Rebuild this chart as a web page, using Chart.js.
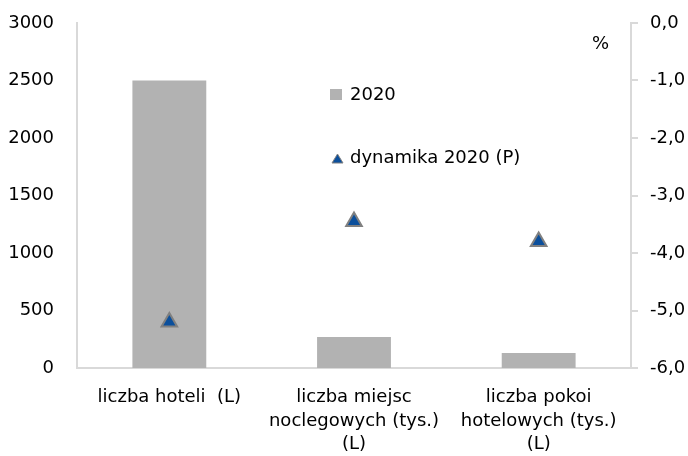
<!DOCTYPE html>
<html>
<head>
<meta charset="utf-8">
<script src="https://cdn.jsdelivr.net/npm/chart.js@4/dist/chart.umd.min.js"></script>
<style>
  html, body { margin: 0; padding: 0; background: #fff; }
  #wrap { width: 688px; height: 456px; }
</style>
</head>
<body>
<div id="wrap"><canvas id="chart" width="688" height="456"></canvas></div>
<script>
const categories = [
    ['liczba hoteli  (L)'],
    ['liczba miejsc', 'noclegowych (tys.)', '(L)'],
    ['liczba pokoi', 'hotelowych (tys.)', '(L)']
];
const values2020 = [2500, 270, 130];
const dynamika2020 = [-5.2, -3.45, -3.8];
const legendLabels = ['2020', 'dynamika 2020 (P)'];
const rightUnit = '%';

const FONT = 'DejaVu Sans';
const barColor = '#b2b2b2';
const triFill = '#0b4f9c';
const triBorder = '#808080';
const axisColor = '#d9d9d9';

// legend inside the plot + "%" label
const insideLegend = {
    id: 'insideLegend',
    afterDraw(chart) {
        const ctx = chart.ctx;
        ctx.save();
        ctx.font = '18px "' + FONT + '"';
        ctx.textBaseline = 'middle';
        ctx.textAlign = 'left';
        // bar entry
        ctx.fillStyle = barColor;
        ctx.fillRect(330, 89, 12, 11);
        ctx.fillStyle = '#000';
        ctx.fillText(legendLabels[0], 350, 95);
        // triangle entry
        ctx.beginPath();
        ctx.moveTo(337.5, 154);
        ctx.lineTo(343, 163);
        ctx.lineTo(332, 163);
        ctx.closePath();
        ctx.fillStyle = triFill;
        ctx.fill();
        ctx.strokeStyle = triBorder;
        ctx.lineWidth = 1;
        ctx.stroke();
        ctx.fillStyle = '#000';
        ctx.fillText(legendLabels[1], 350, 158);
        // unit
        ctx.fillText(rightUnit, 592, 44);
        ctx.restore();
    }
};

const ctx = document.getElementById('chart').getContext('2d');
new Chart(ctx, {
    data: {
        labels: categories,
        datasets: [
            {
                type: 'line',
                label: legendLabels[1],
                data: dynamika2020,
                yAxisID: 'y2',
                showLine: false,
                pointStyle: 'triangle',
                pointRadius: 9,
                pointBackgroundColor: triFill,
                pointBorderColor: triBorder,
                pointBorderWidth: 2,
                order: 0
            },
            {
                type: 'bar',
                label: legendLabels[0],
                data: values2020,
                yAxisID: 'y',
                backgroundColor: barColor,
                categoryPercentage: 1,
                barPercentage: 0.4,
                order: 1
            }
        ]
    },
    options: {
        responsive: false,
        animation: false,
        layout: { padding: { top: 23, left: 0, right: 0, bottom: 0 } },
        plugins: { legend: { display: false }, tooltip: { enabled: false } },
        scales: {
            x: {
                grid: { display: false },
                border: { display: true, color: axisColor, width: 2 },
                ticks: {
                    color: '#000',
                    padding: 10,
                    maxRotation: 0,
                    autoSkip: false,
                    font: { family: FONT, size: 18, lineHeight: 1.3 }
                },
                afterFit(scale) { scale.height = 88; }
            },
            y: {
                position: 'left',
                min: 0, max: 3000,
                grid: { display: false, drawTicks: true, tickLength: 23 },
                border: { display: true, color: axisColor, width: 2 },
                ticks: {
                    stepSize: 500,
                    color: '#000',
                    padding: 0,
                    font: { family: FONT, size: 18 },
                    callback: v => String(v)
                },
                afterFit(scale) { scale.width = 77; }
            },
            y2: {
                position: 'right',
                min: -6, max: 0,
                grid: { drawOnChartArea: false, drawTicks: true, tickLength: 7, color: axisColor, lineWidth: 2 },
                border: { display: true, color: axisColor, width: 2 },
                ticks: {
                    stepSize: 1,
                    color: '#000',
                    padding: 12,
                    font: { family: FONT, size: 18 },
                    callback: v => v.toFixed(1).replace('.', ',')
                },
                afterFit(scale) { scale.width = 57; }
            }
        }
    },
    plugins: [insideLegend]
});
</script>
</body>
</html>
